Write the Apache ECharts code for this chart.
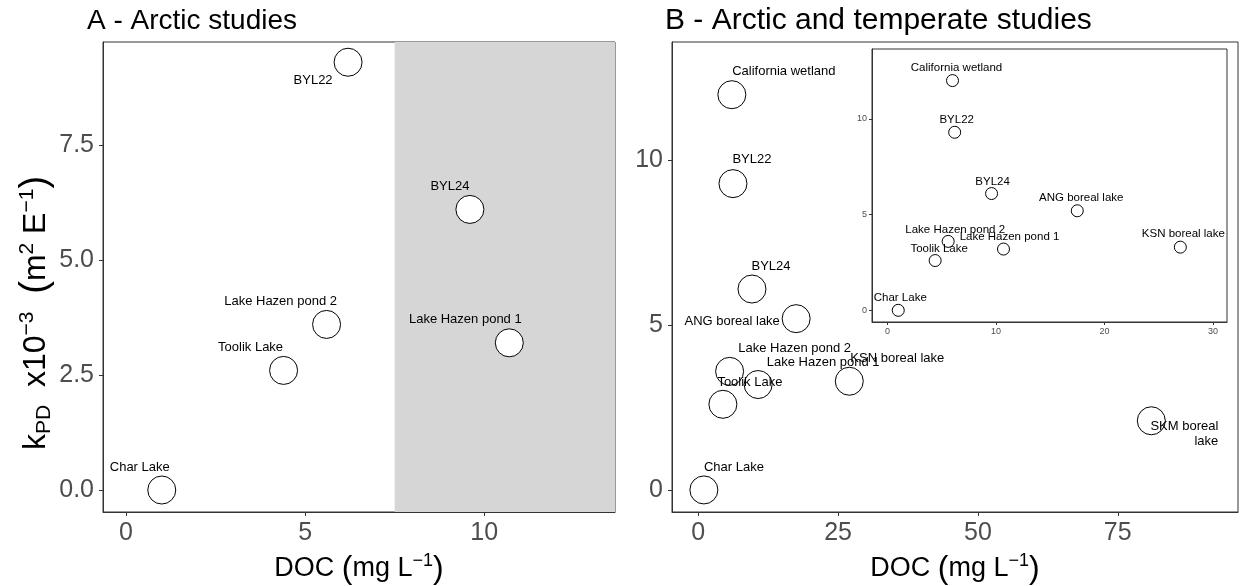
<!DOCTYPE html>
<html>
<head>
<meta charset="utf-8">
<script src="https://cdn.jsdelivr.net/npm/echarts@6/dist/echarts.min.js"></script>
<style>
  html, body { margin: 0; padding: 0; background: #fff; }
  #chart { width: 1244px; height: 586px; }
</style>
</head>
<body>
<div id="chart"></div>
<script>
// Panel A - Arctic studies
const namesA = ['Char Lake', 'Toolik Lake', 'Lake Hazen pond 2', 'BYL22', 'BYL24', 'Lake Hazen pond 1'];
const docA = [1.0, 4.4, 5.6, 6.2, 9.6, 10.7];
const kpdA = [0.0, 2.6, 3.6, 9.3, 6.1, 3.2];

// Panel B - Arctic and temperate studies (inset uses the same points, zoomed)
const namesB = ['California wetland', 'BYL22', 'BYL24', 'ANG boreal lake', 'Lake Hazen pond 2',
  'Lake Hazen pond 1', 'KSN boreal lake', 'Toolik Lake', 'SKM boreal\nlake', 'Char Lake'];
const docB = [6.0, 6.2, 9.6, 17.5, 5.6, 10.7, 27.0, 4.4, 81.0, 1.0];
const kpdB = [12.0, 9.3, 6.1, 5.2, 3.6, 3.2, 3.3, 2.6, 2.1, 0.0];

// tick labels
const ticksAx = [0, 5, 10];
const ticksAy = [0, 2.5, 5, 7.5];
const ticksBx = [0, 25, 50, 75];
const ticksBy = [0, 5, 10];
const ticksInsetX = [0, 10, 20, 30];
const ticksInsetY = [0, 5, 10];
const shadeFrom = 7.5; // grey band in panel A

// label offsets (text centre relative to point), roughly like ggrepel placed them
const offA = [[-22, -23], [-33, -23], [-46, -23], [-35, 18], [-20, -23], [-44, -23]];
const offB = [[52, -23], [19, -24], [19, -23], [-64, 3], [65, -23], [65, -22], [48, -23], [27, -22], [67, 13], [30, -23]];
const offInset = [[4, -13], [2, -12], [1, -12], [4, -13], [7, -12], [6, -12], [3, -13], [4, -12], [0, -12], [2, -12]];

const FONT = '"Liberation Sans", Arial, Helvetica, sans-serif';
const xA = [-0.64, 13.65], yA = [-0.478, 9.74];
const xB = [-4.7, 96.5], yB = [-0.67, 13.6];
const xI = [-1.42, 31.3], yI = [-0.61, 13.65];

function points(names, xs, ys, offs, xmax) {
  const out = [];
  names.forEach((n, i) => {
    if (xs[i] > xmax) return;
    const item = { name: n, value: [xs[i], ys[i]], label: { offset: offs[i] } };
    if (n.indexOf('\n') >= 0) item.label.align = 'right';
    out.push(item);
  });
  return out;
}

function axis(grid, range, ticks, fmt, fs, tickLen, margin, extra) {
  return Object.assign({
    type: 'value',
    gridIndex: grid,
    min: range[0],
    max: range[1],
    splitLine: { show: false },
    axisLine: { show: true, onZero: false, lineStyle: { color: '#333', width: 1 } },
    axisTick: { show: true, length: tickLen, customValues: ticks, lineStyle: { color: '#333', width: 1 } },
    axisLabel: { customValues: ticks, formatter: fmt, fontSize: fs, color: '#4d4d4d', margin: margin, fontFamily: FONT }
  }, extra || {});
}

const docName = {
  name: '{t|DOC }{p|(}{t|mg L}{s|\u22121}{p|)}',
  nameLocation: 'middle',
  nameGap: 40,
  nameTextStyle: {
    rich: {
      t: { fontSize: 27, color: '#000', fontFamily: FONT, lineHeight: 34 },
      p: { fontSize: 32, color: '#000', fontFamily: FONT, lineHeight: 34 },
      s: { fontSize: 18, color: '#000', fontFamily: FONT, lineHeight: 18, verticalAlign: 'top' }
    }
  }
};

function scatter(x, y, data, size, fs) {
  return {
    type: 'scatter',
    xAxisIndex: x,
    yAxisIndex: y,
    symbol: 'circle',
    symbolSize: size,
    itemStyle: { color: '#fff', borderColor: '#000', borderWidth: 1, opacity: 1 },
    label: { show: true, position: 'inside', formatter: '{b}', fontSize: fs, color: '#000', fontFamily: FONT, lineHeight: fs + 2 },
    emphasis: { disabled: true },
    data: data
  };
}

const seriesA = scatter(0, 0, points(namesA, docA, kpdA, offA, Infinity), 28, 13);
seriesA.markArea = {
  silent: true,
  itemStyle: { color: '#d6d6d6' },
  data: [[{ xAxis: shadeFrom }, { xAxis: xA[1] }]]
};

const gridBase = { show: true, borderColor: '#333', borderWidth: 1, outerBoundsMode: 'none', containLabel: false };

const chart = echarts.init(document.getElementById('chart'));
chart.setOption({
  backgroundColor: '#fff',
  animation: false,
  textStyle: { fontFamily: FONT },
  title: [
    { text: 'A - Arctic studies', left: 87, top: 7, padding: 0, textStyle: { fontSize: 28, fontWeight: 'normal', color: '#000', fontFamily: FONT } },
    { text: 'B - Arctic and temperate studies', left: 665, top: 6, padding: 0, textStyle: { fontSize: 30, fontWeight: 'normal', color: '#000', fontFamily: FONT } }
  ],
  grid: [
    Object.assign({ left: 103, top: 42, width: 512, height: 470, backgroundColor: 'transparent' }, gridBase),
    Object.assign({ left: 672, top: 42, width: 566, height: 470, backgroundColor: 'transparent' }, gridBase),
    Object.assign({ left: 872, top: 49, width: 355, height: 273, backgroundColor: '#fff' }, gridBase)
  ],
  xAxis: [
    axis(0, xA, ticksAx, v => String(v), 25, 4, 9, docName),
    axis(1, xB, ticksBx, v => String(v), 25, 4, 9, docName),
    axis(2, xI, ticksInsetX, v => String(v), 9, 3, 5)
  ],
  yAxis: [
    axis(0, yA, ticksAy, v => v.toFixed(1), 25, 4, 9),
    axis(1, yB, ticksBy, v => String(v), 25, 4, 9),
    axis(2, yI, ticksInsetY, v => String(v), 9, 3, 5)
  ],
  graphic: [
    {
      type: 'text',
      x: 36,
      y: 313,
      rotation: Math.PI / 2,
      style: {
        text: '{t|k}{b|PD}{t|  x10}{s|\u22123}{t|  }{p|(}{t|m}{s|2}{t| E}{s|\u22121}{p|)}',
        align: 'center',
        verticalAlign: 'middle',
        rich: {
          t: { fontSize: 32, fill: '#000', fontFamily: FONT, lineHeight: 38 },
          p: { fontSize: 38, fill: '#000', fontFamily: FONT, lineHeight: 38 },
          s: { fontSize: 21, fill: '#000', fontFamily: FONT, lineHeight: 21, verticalAlign: 'top' },
          b: { fontSize: 21, fill: '#000', fontFamily: FONT, lineHeight: 21, verticalAlign: 'bottom' }
        }
      }
    }
  ],
  series: [
    seriesA,
    scatter(1, 1, points(namesB, docB, kpdB, offB, Infinity), 28, 13),
    scatter(2, 2, points(namesB, docB, kpdB, offInset, xI[1]), 12, 11.5)
  ]
});
</script>
</body>
</html>
